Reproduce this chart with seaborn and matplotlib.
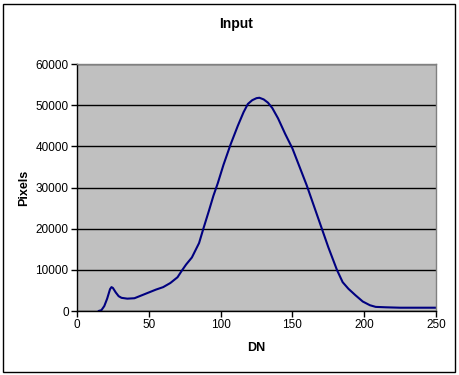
import matplotlib
matplotlib.use('Agg')
import matplotlib.pyplot as plt
import seaborn as sns
import pandas as pd
from matplotlib.patches import Rectangle

# values
dn = [15, 17, 19, 21, 23, 24, 25, 27, 29, 31, 35, 40, 45, 50, 55, 60, 65, 70, 73,
      76, 80, 85, 88, 92, 95, 98, 102, 107, 112, 116, 119, 122, 125, 127, 130, 133,
      136, 140, 145, 150, 155, 160, 165, 170, 175, 181, 185, 189, 194, 199, 204,
      208, 215, 225, 235, 250]
pixels = [0, 200, 1200, 3000, 5300, 5800, 5600, 4500, 3600, 3200, 3000, 3100, 3800,
          4500, 5200, 5800, 6800, 8200, 9800, 11300, 13000, 16500, 20000, 24500,
          28000, 31000, 35500, 40500, 45000, 48300, 50300, 51200, 51700, 51800,
          51400, 50600, 49300, 46800, 43000, 39500, 35000, 30500, 25500, 20500,
          15500, 10000, 7000, 5400, 3800, 2300, 1400, 1000, 900, 800, 800, 800]
x_ticks = [0, 50, 100, 150, 200, 250]
y_ticks = [0, 10000, 20000, 30000, 40000, 50000, 60000]

sns.set_style('white')
plt.rcParams['font.family'] = ['Liberation Sans', 'DejaVu Sans']
plt.rcParams['text.color'] = 'black'
plt.rcParams['axes.labelcolor'] = 'black'
plt.rcParams['xtick.color'] = 'black'
plt.rcParams['ytick.color'] = 'black'

df = pd.DataFrame({'DN': dn, 'Pixels': pixels})

fig = plt.figure(figsize=(4.6, 3.75), dpi=100)
ax = fig.add_axes([77 / 460, 1 - 311 / 375, (436 - 77) / 460, (311 - 64) / 375])
ax.set_facecolor('#c0c0c0')

sns.lineplot(data=df, x='DN', y='Pixels', ax=ax, color='#000080', linewidth=1.5)

ax.set_xlim(0, 250)
ax.set_ylim(0, 60000)
ax.set_xticks(x_ticks)
ax.set_yticks(y_ticks)
ax.set_xticklabels([str(t) for t in x_ticks], fontsize=8.5)
ax.set_yticklabels([str(t) for t in y_ticks], fontsize=8.5)
ax.yaxis.grid(True, color='black', linewidth=1)
ax.set_axisbelow(True)
ax.tick_params(axis='both', direction='out', length=4, width=1, color='black',
               bottom=True, left=True, pad=2)
for side, sp in ax.spines.items():
    sp.set_color('#808080' if side in ('top', 'right') else 'black')
    sp.set_linewidth(1)

ax.set_xlabel('DN', fontsize=9, fontweight='bold', labelpad=8)
ax.set_ylabel('Pixels', fontsize=9, fontweight='bold', labelpad=4)
fig.text(236 / 460, 1 - 24 / 375, 'Input', ha='center', va='center',
         fontsize=10, fontweight='bold')

fig.patches.append(Rectangle((3 / 460, 3 / 375), 452 / 460, 368 / 375,
                             transform=fig.transFigure, fill=False,
                             edgecolor='black', linewidth=1))

fig.savefig('out.png', dpi=100)
